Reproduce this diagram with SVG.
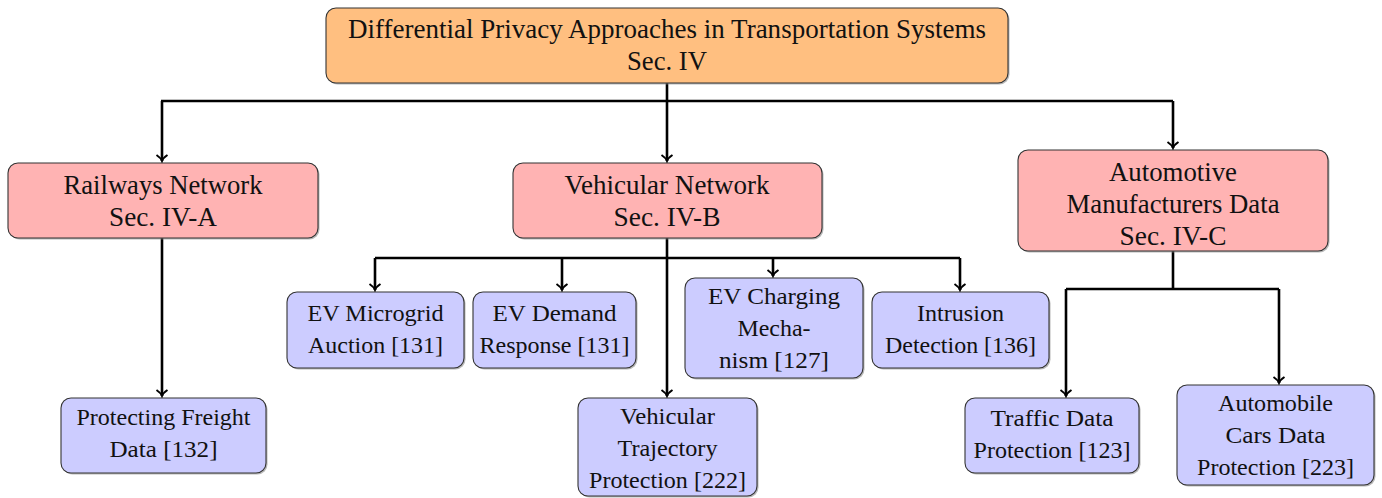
<svg xmlns="http://www.w3.org/2000/svg" width="1382" height="498" viewBox="0 0 1382 498">
<style>
text{font-family:'Liberation Serif','DejaVu Serif','Times New Roman',serif;fill:#111;text-anchor:middle}
.big{font-size:26.8px}
.sm{font-size:24px}
.box{stroke:#333;stroke-width:1.1}
.sh{fill:#888;stroke:none;opacity:0.6}
.root{fill:#FFBF80}
.sec{fill:#FFB3B3}
.leaf{fill:#CCCCFF}
.c{fill:none;stroke:#000;stroke-width:2.6}
</style>
<defs>
<marker id="ah" markerWidth="14" markerHeight="14" refX="7" refY="7" orient="auto" markerUnits="userSpaceOnUse">
<path d="M1,1.5 Q4,6 7,7 Q4,8 1,12.5" fill="none" stroke="#000" stroke-width="2"/>
</marker>
</defs>
<g id="connectors">
<path class="c" d="M667,83 V101 M161,101 H1173"/>
<path class="c" d="M162,101 V161" marker-end="url(#ah)"/>
<path class="c" d="M667,101 V161" marker-end="url(#ah)"/>
<path class="c" d="M1173,101 V148" marker-end="url(#ah)"/>
<path class="c" d="M162,238 V396" marker-end="url(#ah)"/>
<path class="c" d="M667,238 V396" marker-end="url(#ah)"/>
<path class="c" d="M375,258 H960"/>
<path class="c" d="M375,258 V290" marker-end="url(#ah)"/>
<path class="c" d="M562,258 V290" marker-end="url(#ah)"/>
<path class="c" d="M773,258 V276" marker-end="url(#ah)"/>
<path class="c" d="M960,258 V290" marker-end="url(#ah)"/>
<path class="c" d="M1173,251 V289 M1066,289 H1279"/>
<path class="c" d="M1066,289 V396" marker-end="url(#ah)"/>
<path class="c" d="M1279,289 V383" marker-end="url(#ah)"/>
</g>
<g id="root">
<rect class="sh" x="327.5" y="9.5" width="682" height="75" rx="10"/>
<rect class="box root" x="326" y="8" width="682" height="75" rx="10"/>
<text class="big" x="667" y="38" textLength="638" lengthAdjust="spacingAndGlyphs">Differential Privacy Approaches in Transportation Systems</text>
<text class="big" x="667" y="70" textLength="80" lengthAdjust="spacingAndGlyphs">Sec. IV</text>
</g>
<g id="railways">
<rect class="sh" x="9.5" y="164.5" width="310" height="75" rx="10"/>
<rect class="box sec" x="8" y="163" width="310" height="75" rx="10"/>
<text class="big" x="163" y="194" textLength="199" lengthAdjust="spacingAndGlyphs">Railways Network</text>
<text class="big" x="163" y="226" textLength="108" lengthAdjust="spacingAndGlyphs">Sec. IV-A</text>
</g>
<g id="vehicular">
<rect class="sh" x="514.5" y="164.5" width="309" height="75" rx="10"/>
<rect class="box sec" x="513" y="163" width="309" height="75" rx="10"/>
<text class="big" x="667" y="194" textLength="205" lengthAdjust="spacingAndGlyphs">Vehicular Network</text>
<text class="big" x="667" y="226" textLength="107" lengthAdjust="spacingAndGlyphs">Sec. IV-B</text>
</g>
<g id="automotive">
<rect class="sh" x="1019.5" y="151.5" width="310" height="101" rx="10"/>
<rect class="box sec" x="1018" y="150" width="310" height="101" rx="10"/>
<text class="big" x="1173" y="181" textLength="128" lengthAdjust="spacingAndGlyphs">Automotive</text>
<text class="big" x="1173" y="213" textLength="213" lengthAdjust="spacingAndGlyphs">Manufacturers Data</text>
<text class="big" x="1173" y="245" textLength="107" lengthAdjust="spacingAndGlyphs">Sec. IV-C</text>
</g>
<g id="freight">
<rect class="sh" x="62.5" y="399.5" width="205" height="75" rx="10"/>
<rect class="box leaf" x="61" y="398" width="205" height="75" rx="10"/>
<text class="sm" x="163.5" y="425" textLength="174" lengthAdjust="spacingAndGlyphs">Protecting Freight</text>
<text class="sm" x="163.5" y="457" textLength="108" lengthAdjust="spacingAndGlyphs">Data  [132]</text>
</g>
<g id="microgrid">
<rect class="sh" x="288.5" y="293.5" width="177" height="76" rx="10"/>
<rect class="box leaf" x="287" y="292" width="177" height="76" rx="10"/>
<text class="sm" x="375.5" y="321" textLength="136" lengthAdjust="spacingAndGlyphs">EV Microgrid</text>
<text class="sm" x="375.5" y="353" textLength="135" lengthAdjust="spacingAndGlyphs">Auction [131]</text>
</g>
<g id="demand">
<rect class="sh" x="474.5" y="293.5" width="163" height="76" rx="10"/>
<rect class="box leaf" x="473" y="292" width="163" height="76" rx="10"/>
<text class="sm" x="554.5" y="321" textLength="124" lengthAdjust="spacingAndGlyphs">EV Demand</text>
<text class="sm" x="554.5" y="353" textLength="150" lengthAdjust="spacingAndGlyphs">Response [131]</text>
</g>
<g id="charging">
<rect class="sh" x="686.5" y="279.5" width="178" height="100" rx="10"/>
<rect class="box leaf" x="685" y="278" width="178" height="100" rx="10"/>
<text class="sm" x="774" y="304" textLength="132" lengthAdjust="spacingAndGlyphs">EV Charging</text>
<text class="sm" x="774" y="336" textLength="73" lengthAdjust="spacingAndGlyphs">Mecha-</text>
<text class="sm" x="774" y="368" textLength="110" lengthAdjust="spacingAndGlyphs">nism [127]</text>
</g>
<g id="intrusion">
<rect class="sh" x="873.5" y="293.5" width="177" height="76" rx="10"/>
<rect class="box leaf" x="872" y="292" width="177" height="76" rx="10"/>
<text class="sm" x="960.5" y="321" textLength="87" lengthAdjust="spacingAndGlyphs">Intrusion</text>
<text class="sm" x="960.5" y="353" textLength="151" lengthAdjust="spacingAndGlyphs">Detection [136]</text>
</g>
<g id="trajectory">
<rect class="sh" x="579.5" y="399.5" width="179" height="98" rx="10"/>
<rect class="box leaf" x="578" y="398" width="179" height="98" rx="10"/>
<text class="sm" x="667.5" y="424" textLength="95" lengthAdjust="spacingAndGlyphs">Vehicular</text>
<text class="sm" x="667.5" y="456" textLength="100" lengthAdjust="spacingAndGlyphs">Trajectory</text>
<text class="sm" x="667.5" y="488" textLength="157" lengthAdjust="spacingAndGlyphs">Protection [222]</text>
</g>
<g id="traffic">
<rect class="sh" x="966.5" y="399.5" width="174" height="75" rx="10"/>
<rect class="box leaf" x="965" y="398" width="174" height="75" rx="10"/>
<text class="sm" x="1052" y="426" textLength="123" lengthAdjust="spacingAndGlyphs">Traffic Data</text>
<text class="sm" x="1052" y="458" textLength="157" lengthAdjust="spacingAndGlyphs">Protection [123]</text>
</g>
<g id="automobile">
<rect class="sh" x="1178.5" y="386.5" width="197" height="100" rx="10"/>
<rect class="box leaf" x="1177" y="385" width="197" height="100" rx="10"/>
<text class="sm" x="1275.5" y="411" textLength="115" lengthAdjust="spacingAndGlyphs">Automobile</text>
<text class="sm" x="1275.5" y="443" textLength="100" lengthAdjust="spacingAndGlyphs">Cars Data</text>
<text class="sm" x="1275.5" y="475" textLength="157" lengthAdjust="spacingAndGlyphs">Protection [223]</text>
</g>
</svg>
